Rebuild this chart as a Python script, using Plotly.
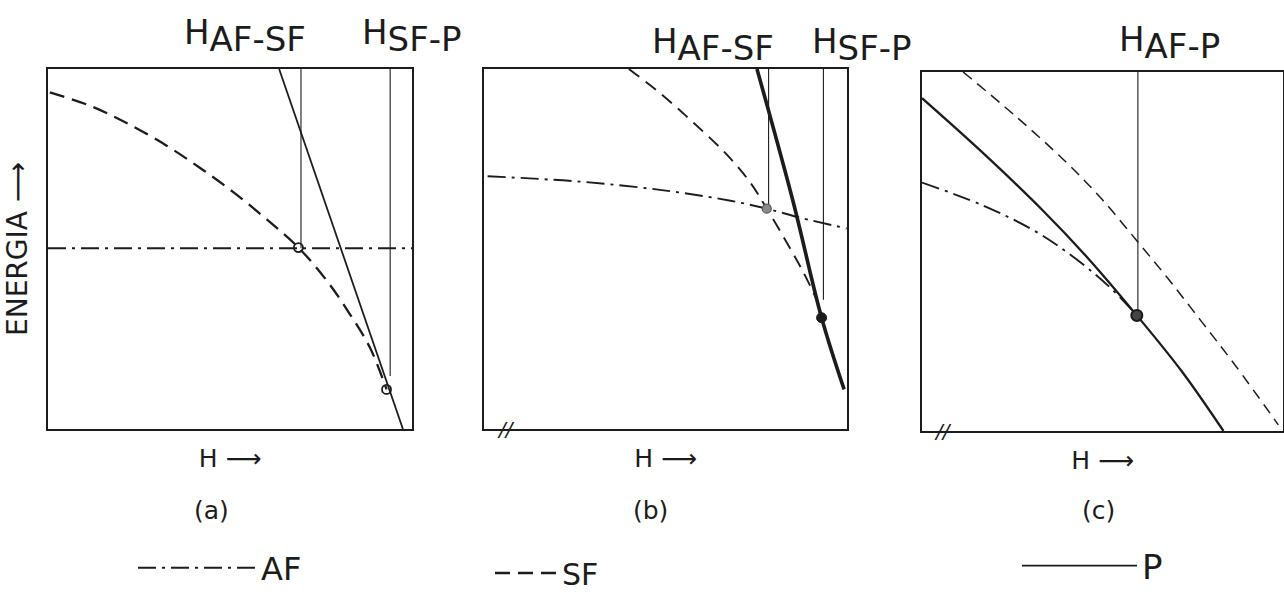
import plotly.graph_objects as go

INK = "#1c1c1c"
FONT = "DejaVu Sans"
W, H = 1284, 595

# ---------------- data (H and energy in arbitrary units 0..10)
# panel (a)
a_af_h = [0.0, 10.0]
a_af_e = [5.02, 5.02]
a_sf_h = [0.05, 1.15, 2.16, 3.26, 4.18, 5.09, 6.01, 6.88, 7.66, 8.30, 8.85, 9.30]
a_sf_e = [9.35, 8.98, 8.50, 7.87, 7.25, 6.58, 5.82, 5.04, 4.12, 3.18, 2.25, 1.10]
a_p_h = [6.35, 9.75]
a_p_e = [10.0, 0.0]
a_trans_h = [6.95, 9.40]
a_trans_e = [5.02, 1.47]
a_point_h = [6.88, 9.30]
a_point_e = [5.04, 1.10]
a_labels = ["AF-SF", "SF-P"]

# panel (b)
b_af_h = [0.1, 2.66, 4.95, 6.79, 7.79, 8.71, 9.99]
b_af_e = [7.02, 6.87, 6.63, 6.34, 6.12, 5.87, 5.57]
b_sf_h = [3.99, 4.86, 5.78, 6.69, 7.34, 7.79, 8.34, 8.80, 9.21]
b_sf_e = [10.0, 9.32, 8.50, 7.62, 6.84, 6.12, 5.18, 4.35, 3.50]
b_p_h = [7.52, 8.52, 9.30, 9.92]
b_p_e = [10.0, 6.30, 3.09, 1.10]
b_trans_h = [7.84, 9.35]
b_trans_e = [6.12, 3.59]
b_point_h = [7.79, 9.30]
b_point_e = [6.12, 3.09]
b_labels = ["AF-SF", "SF-P"]

# panel (c)
c_af_h = [0.0, 1.65, 3.04, 3.96, 4.79, 5.35, 5.95]
c_af_e = [6.92, 6.30, 5.62, 5.02, 4.37, 3.86, 3.22]
c_sf_h = [1.14, 2.58, 3.96, 4.98, 5.95, 6.82, 7.75, 8.67, 9.87]
c_sf_e = [10.0, 8.78, 7.52, 6.46, 5.30, 4.24, 3.04, 1.84, 0.17]
c_p_h = [0.0, 1.65, 3.32, 4.61, 5.95, 7.19, 8.35]
c_p_e = [9.27, 7.78, 6.17, 4.80, 3.22, 1.67, 0.0]
c_trans_h = [5.98]
c_trans_e = [3.22]
c_point_h = [5.95]
c_point_e = [3.22]
c_labels = ["AF-P"]

phase_names = ["AF", "SF", "P"]
panel_tags = ["(a)", "(b)", "(c)"]
x_title = "H ⟶"
y_title = "ENERGIA ⟶"

# ---------------- figure
fig = go.Figure()

AF_DASH = "18px,6px,3px,6px"


def add_panel(k, af, sf, p, trans, pts, sf_dash, sf_w, p_w, show, pt_styles):
    xa = "x" if k == 1 else f"x{k}"
    ya = "y" if k == 1 else f"y{k}"
    fig.add_trace(go.Scatter(x=af[0], y=af[1], mode="lines", name=phase_names[0],
                             line=dict(color=INK, width=1.9, dash=AF_DASH, shape="spline",
                                       smoothing=1.0),
                             xaxis=xa, yaxis=ya, showlegend=show, legend="legend"))
    fig.add_trace(go.Scatter(x=sf[0], y=sf[1], mode="lines", name=phase_names[1],
                             line=dict(color=INK, width=sf_w, dash=sf_dash, shape="spline",
                                       smoothing=1.0),
                             xaxis=xa, yaxis=ya, showlegend=show, legend="legend2"))
    fig.add_trace(go.Scatter(x=p[0], y=p[1], mode="lines", name=phase_names[2],
                             line=dict(color=INK, width=p_w, shape="spline", smoothing=1.0),
                             xaxis=xa, yaxis=ya, showlegend=show, legend="legend3"))
    for h, e in zip(trans[0], trans[1]):
        fig.add_trace(go.Scatter(x=[h, h], y=[e, 10], mode="lines",
                                 line=dict(color=INK, width=1.1),
                                 xaxis=xa, yaxis=ya, showlegend=False, hoverinfo="skip"))
    for (h, e), st in zip(zip(pts[0], pts[1]), pt_styles):
        fig.add_trace(go.Scatter(x=[h], y=[e], mode="markers", marker=st,
                                 xaxis=xa, yaxis=ya, showlegend=False))


open_c = dict(symbol="circle-open", size=9, color=INK, line=dict(width=1.8, color=INK))
grey_c = dict(symbol="circle", size=9, color="#8a8a8a", line=dict(width=1.2, color="#555"))
full_c = dict(symbol="circle", size=10, color=INK, line=dict(width=1, color=INK))
big_c = dict(symbol="circle", size=11, color="#444", line=dict(width=2, color=INK))

add_panel(1, (a_af_h, a_af_e), (a_sf_h, a_sf_e), (a_p_h, a_p_e), (a_trans_h, a_trans_e),
          (a_point_h, a_point_e), "15px,8px", 2.3, 1.8, True, [open_c, open_c])
add_panel(2, (b_af_h, b_af_e), (b_sf_h, b_sf_e), (b_p_h, b_p_e), (b_trans_h, b_trans_e),
          (b_point_h, b_point_e), "13px,8px", 1.9, 3.6, False, [grey_c, full_c])
add_panel(3, (c_af_h, c_af_e), (c_sf_h, c_sf_e), (c_p_h, c_p_e), (c_trans_h, c_trans_e),
          (c_point_h, c_point_e), "11px,7px", 1.5, 2.3, False, [big_c])


def px(x):
    return x / W


def py(y):
    return 1 - y / H


axis_common = dict(range=[0, 10], showgrid=False, zeroline=False, showticklabels=False,
                   ticks="", showline=True, mirror=True, linewidth=1.7, linecolor=INK,
                   fixedrange=True, automargin=False)
xdoms = [[px(48), px(412)], [px(484), px(847)], [px(922), px(1283)]]
ydoms = [[py(429), py(69)], [py(429), py(69)], [py(431), py(72)]]

layout = dict(width=W, height=H, margin=dict(l=0, r=0, t=0, b=0, autoexpand=False),
              paper_bgcolor="white", plot_bgcolor="white",
              font=dict(family=FONT, color=INK), hovermode=False)
for i in range(3):
    xs = "xaxis" if i == 0 else f"xaxis{i+1}"
    ys = "yaxis" if i == 0 else f"yaxis{i+1}"
    layout[xs] = dict(axis_common, domain=xdoms[i], anchor="y" if i == 0 else f"y{i+1}",
                      title=dict(text=x_title, font=dict(size=25, family=FONT, color=INK),
                                 standoff=20))
    layout[ys] = dict(axis_common, domain=ydoms[i], anchor="x" if i == 0 else f"x{i+1}")
layout["yaxis"]["title"] = dict(text=y_title, font=dict(size=28, family=FONT, color=INK),
                                standoff=10)

leg_common = dict(orientation="h", bgcolor="rgba(0,0,0,0)", borderwidth=0,
                  xanchor="left", yanchor="middle")
layout["legend"] = dict(leg_common, x=px(133), y=py(568), itemwidth=118,
                        font=dict(size=32, family=FONT, color=INK))
layout["legend2"] = dict(leg_common, x=px(490), y=py(573), itemwidth=62,
                         font=dict(size=30, family=FONT, color=INK))
layout["legend3"] = dict(leg_common, x=px(1017), y=py(566), itemwidth=115,
                         font=dict(size=34, family=FONT, color=INK))
fig.update_layout(**layout)


def sublabel(main, sub):
    return f'{main}<sub><span style="font-size:34px">{sub}</span></sub>'


top_labels = [
    (a_labels[0], 182, 35), (a_labels[1], 360, 35),
    (b_labels[0], 650, 45), (b_labels[1], 810, 45),
    (c_labels[0], 1117, 43),
]
for txt, xl, yc in top_labels:
    fig.add_annotation(x=px(xl), y=py(yc), xref="paper", yref="paper", xanchor="left",
                       yanchor="middle", text=sublabel("H", txt), showarrow=False,
                       font=dict(size=34, family=FONT, color=INK))

for tag, xc in zip(panel_tags, [211, 650, 1098]):
    fig.add_annotation(x=px(xc), y=py(510), xref="paper", yref="paper", text=tag,
                       xanchor="center", yanchor="middle",
                       showarrow=False, font=dict(size=25, family=FONT, color=INK))

# axis-break marks on panels (b) and (c)
for k, hb in [(2, 0.6), (3, 0.58)]:
    fig.add_annotation(x=hb, y=0, xref=f"x{k}", yref=f"y{k}", text="<i>//</i>",
                       showarrow=False, font=dict(size=20, family=FONT, color=INK))

fig.write_html("out.html", config={"displayModeBar": False},
               post_script="document.body.style.margin='0px';"
                           "document.body.style.overflow='hidden';")
